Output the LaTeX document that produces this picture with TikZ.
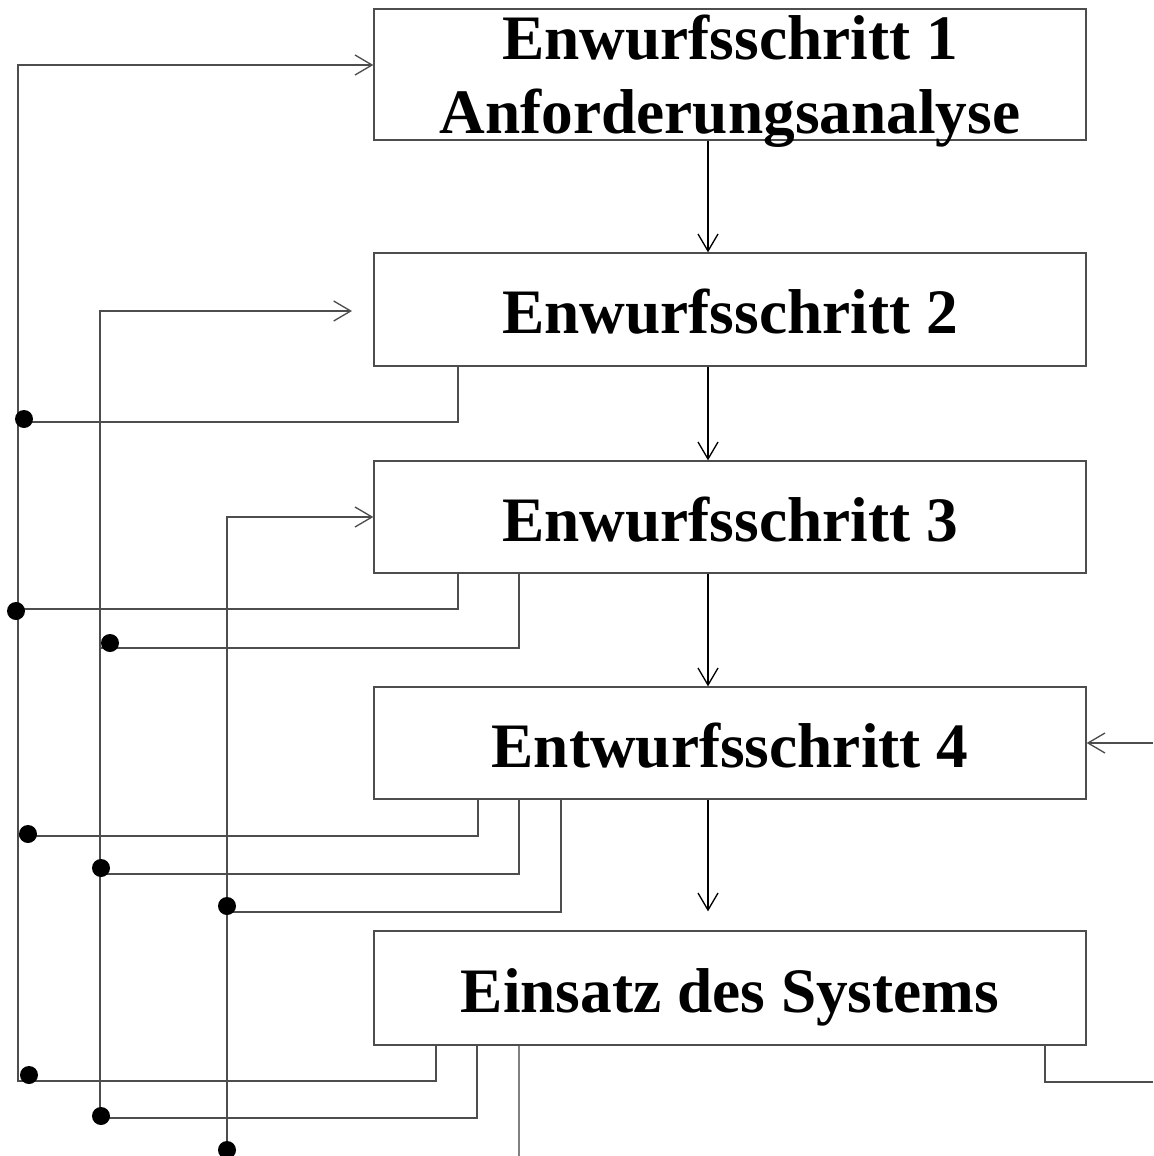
\documentclass[tikz,border=0pt]{standalone}
\usepackage{fontspec}
\setmainfont{Liberation Serif}
\usetikzlibrary{arrows.meta}
\definecolor{ln}{HTML}{4D4D4D}
\definecolor{lnlight}{HTML}{808080}
\begin{document}
\begin{tikzpicture}[x=0.75pt,y=-0.75pt,
  line width=1pt,
  conn/.style={draw=ln, line width=1pt},
  flow/.style={draw=black, line width=1pt},
  box/.style={draw=ln, line width=1pt, minimum width=534pt, inner sep=0pt,
    font=\bfseries\fontsize{47.5}{55}\selectfont, text height=36pt, text depth=0pt},
  lbl/.style={inner sep=0pt, font=\bfseries\fontsize{47.5}{55}\selectfont},
  arr/.style={-{Straight Barb[length=12.75pt,width=15pt]}},
  dot/.style={circle, fill=black, draw=none, inner sep=0pt, minimum size=13.5pt}]
\useasboundingbox (0,0) rectangle (1153,1156);
% boxes
\node[box, minimum height=98.25pt] (b1) at (730,74.5) {};
\node[lbl, anchor=base] (b1t1) at (730,60) {Enwurfsschritt 1};
\node[lbl, anchor=base] (b1t2) at (730,133) {Anforderungsanalyse};
\node[box, minimum height=84.75pt] (b2) at (730,309.5) {Enwurfsschritt 2};
\node[box, minimum height=84pt] (b3) at (730,517) {Enwurfsschritt 3};
\node[box, minimum height=84pt] (b4) at (730,743) {Entwurfsschritt 4};
\node[box, minimum height=85.5pt] (b5) at (730,988) {Einsatz des Systems};
% helper coordinates
\coordinate (x436) at (436,0);
\coordinate (x458) at (458,0);
\coordinate (x477) at (477,0);
\coordinate (x478) at (478,0);
\coordinate (x519) at (519,0);
\coordinate (x561) at (561,0);
\coordinate (x708) at (708,0);
\coordinate (x1045) at (1045,0);
\coordinate (yA) at (0,65);
\coordinate (yC) at (0,517);
\coordinate (cornerA) at (18,1081);
\coordinate (cornerB) at (100,1118);
\coordinate (tipB) at (352,311);
\coordinate (botC) at (227,1160);
\coordinate (botD) at (519,1156);
\coordinate (rightOut) at (1153,1082);
\coordinate (rightIn) at (1153,743);
\coordinate (f2a) at (18,422);
\coordinate (f3a) at (18,609);
\coordinate (f3b) at (100,648);
\coordinate (f4a) at (18,836);
\coordinate (f4b) at (100,874);
\coordinate (f4c) at (227,912);
% main flow
\draw[flow,arr] (b1.south -| x708) -- (b2.north -| x708);
\draw[flow,arr] (b2.south -| x708) -- (b3.north -| x708);
\draw[flow,arr] (b3.south -| x708) -- (b4.north -| x708);
\draw[flow,arr,shorten >=14.25pt] (b4.south -| x708) -- (b5.north -| x708);
% feedback loops
\draw[conn,arr] (b5.south -| x436) |- (cornerA) |- (b1.west |- yA);
\draw[conn,arr] (b5.south -| x477) |- (cornerB) |- (tipB);
\draw[conn,arr] (botC) |- (b3.west |- yC);
\draw[conn] (b2.south -| x458) |- (f2a);
\draw[conn] (b3.south -| x458) |- (f3a);
\draw[conn] (b3.south -| x519) |- (f3b);
\draw[conn] (b4.south -| x478) |- (f4a);
\draw[conn] (b4.south -| x519) |- (f4b);
\draw[conn] (b4.south -| x561) |- (f4c);
\draw[draw=lnlight, line width=1pt] (b5.south -| x519) -- (botD);
\draw[conn] (b5.south -| x1045) |- (rightOut);
\draw[conn,arr] (rightIn) -- (b4.east);
% dots
\node[dot] (d1) at (24,419) {};
\node[dot] (d2) at (16,611) {};
\node[dot] (d3) at (110,643) {};
\node[dot] (d4) at (28,834) {};
\node[dot] (d5) at (101,868) {};
\node[dot] (d6) at (227,906) {};
\node[dot] (d7) at (29,1075) {};
\node[dot] (d8) at (101,1116) {};
\node[dot] (d9) at (227,1150) {};
\end{tikzpicture}
\end{document}
